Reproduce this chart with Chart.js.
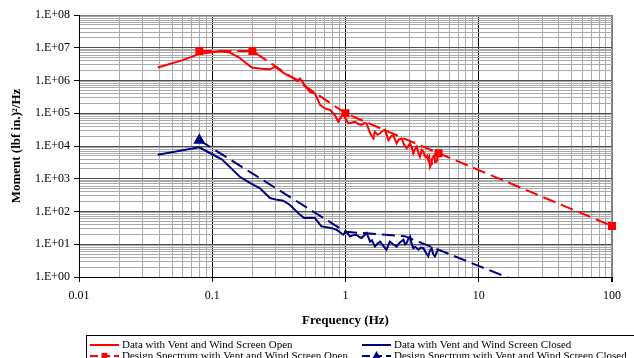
<!DOCTYPE html>
<html>
<head>
<meta charset="utf-8">
<script src="https://cdn.jsdelivr.net/npm/chart.js@4.4.0/dist/chart.umd.min.js"></script>
<style>
  html, body { margin: 0; padding: 0; background: #fff; }
</style>
</head>
<body>
<canvas id="psd-chart" width="634" height="358"></canvas>
<script>
// tick labels
var xTickLabels = ['0.01', '0.1', '1', '10', '100'];
var yTickLabels = ['1.E+00', '1.E+01', '1.E+02', '1.E+03', '1.E+04', '1.E+05', '1.E+06', '1.E+07', '1.E+08'];

// data with vent and wind screen open (red)
var openFreq = [0.039, 0.06, 0.081, 0.1, 0.114, 0.136, 0.157, 0.178, 0.198, 0.235, 0.271, 0.296, 0.32, 0.351, 0.4, 0.443,
  0.455, 0.48, 0.51, 0.54, 0.59, 0.644, 0.7, 0.765, 0.834, 0.883, 0.96, 1.0, 1.05, 1.12, 1.18, 1.25, 1.32, 1.38, 1.44,
  1.53, 1.62, 1.66, 1.74, 1.82, 1.9, 1.98, 2.1, 2.2, 2.28, 2.42, 2.52, 2.64, 2.75, 2.88, 3.05, 3.15, 3.23, 3.3, 3.42,
  3.52, 3.62, 3.73, 3.84, 3.9, 4.0, 4.1, 4.18, 4.25, 4.31, 4.4, 4.45, 4.56, 4.65, 4.7, 4.83, 4.9, 4.97];
var openMoment = [2.5e6, 4.2e6, 6.6e6, 7.3e6, 7.8e6, 7.1e6, 5.2e6, 3.5e6, 2.5e6, 2.3e6, 2.2e6, 2.6e6, 2.1e6, 1.6e6, 1.25e6, 1.0e6,
  1.15e6, 8.5e5, 6.0e5, 4.5e5, 4.0e5, 1.8e5, 1.4e5, 1.26e5, 8.7e4, 5.5e4, 1.0e5, 6.9e4, 4.9e4, 5.2e4, 5.5e4, 4.7e4, 4.4e4, 5.0e4, 4.9e4,
  2.45e4, 1.7e4, 2.7e4, 2.2e4, 2.45e4, 2.9e4, 3.1e4, 1.5e4, 2.0e4, 2.1e4, 1.2e4, 1.6e4, 1.7e4, 1.1e4, 8.5e3, 1.2e4, 8.9e3, 6.0e3, 7.5e3, 9.5e3,
  6.3e3, 4.7e3, 7.6e3, 6.8e3, 5.5e3, 4.5e3, 5.0e3, 3.7e3, 4.5e3, 2.3e3, 2.8e3, 4.0e3, 4.7e3, 5.2e3, 3.2e3, 3.3e3, 4.2e3, 6.0e3];

// data with vent and wind screen closed (navy)
var closedFreq = [0.039, 0.08, 0.1, 0.118, 0.14, 0.161, 0.19, 0.228, 0.271, 0.3, 0.341, 0.383, 0.456, 0.49, 0.55, 0.59, 0.62,
  0.66, 0.72, 0.79, 0.86, 0.92, 0.96, 1.01, 1.05, 1.08, 1.15, 1.21, 1.27, 1.32, 1.38, 1.44, 1.53, 1.58, 1.66, 1.74, 1.82,
  1.92, 2.03, 2.1, 2.15, 2.28, 2.42, 2.55, 2.72, 2.8, 2.88, 2.95, 3.05, 3.12, 3.23, 3.35, 3.52, 3.68, 3.84, 4.0, 4.18,
  4.3, 4.43, 4.55, 4.69, 4.83, 4.97];
var closedMoment = [5.4e3, 9.1e3, 5.6e3, 3.9e3, 2.0e3, 1150, 760, 510, 257, 234, 214, 158, 79, 63, 63, 63, 48,
  35, 33, 31, 27.5, 22.4, 19.5, 24.5, 20, 17.4, 19, 19.5, 16.6, 15.5, 18.6, 21.9, 12, 13.2, 8.5, 10.5, 12,
  8.9, 6.8, 9.5, 12, 10, 8.5, 11.2, 13.8, 10, 11, 14.1, 17.4, 11.2, 7.6, 8.3, 6.8, 7.9, 7.6, 5.6, 4.3,
  6.3, 7.6, 5.0, 4.3, 5.6, 6.8];

// design spectra
var designOpenFreq = [0.08, 0.2, 1, 5, 100];
var designOpenMoment = [8e6, 8e6, 1e5, 6e3, 36];
var designClosedFreq = [0.08, 1, 2.8, 100];
var designClosedMoment = [1.5e4, 24, 17.5, 0.05];

function toPoints(xs, ys) {
  return xs.map(function(x, i) { return {x: x, y: ys[i]}; });
}

function isDecade(v) {
  var l = Math.log10(v);
  return Math.abs(l - Math.round(l)) < 1e-9;
}

function logTicks(fromExp, toExp) {
  var t = [];
  for (var k = fromExp; k < toExp; k++) {
    for (var m = 1; m <= 9; m++) {
      t.push({value: Number((m * Math.pow(10, k)).toPrecision(10))});
    }
  }
  t.push({value: Math.pow(10, toExp)});
  return t;
}

// legend drawn in a box under the axis, two columns
var legendBox = {
  id: 'legendBox',
  afterDraw: function(chart) {
    var ctx = chart.ctx;
    ctx.save();
    ctx.strokeStyle = '#000';
    ctx.lineWidth = 1;
    ctx.strokeRect(86.5, 335.5, 600, 40);
    var cols = [90, 362];
    var rows = [345, 356];
    ctx.font = '11px "Liberation Serif"';
    ctx.textBaseline = 'middle';
    chart.data.datasets.forEach(function(ds, i) {
      var x = cols[i % 2], y = rows[Math.floor(i / 2)];
      ctx.strokeStyle = ds.borderColor;
      ctx.lineWidth = 2;
      ctx.setLineDash(ds.borderDash ? [8, 4] : []);
      ctx.beginPath();
      ctx.moveTo(x, y);
      ctx.lineTo(x + 29, y);
      ctx.stroke();
      ctx.setLineDash([]);
      ctx.fillStyle = ds.borderColor;
      if (ds.pointStyle === 'rect') {
        ctx.fillRect(x + 11.5, y - 3, 6, 6);
      } else if (ds.pointStyle === 'triangle') {
        ctx.beginPath();
        ctx.moveTo(x + 14.5, y - 5);
        ctx.lineTo(x + 19, y + 3);
        ctx.lineTo(x + 10, y + 3);
        ctx.closePath();
        ctx.fill();
      }
      ctx.fillStyle = '#000';
      ctx.fillText(ds.label, x + 32, y);
    });
    ctx.restore();
  }
};

Chart.defaults.font.family = '"Liberation Serif", "Times New Roman", serif';
Chart.defaults.color = '#000';

var psd_chart = new Chart(document.getElementById('psd-chart'), {
  type: 'line',
  data: {
    datasets: [
      {
        label: 'Data with Vent and Wind Screen Open',
        data: toPoints(openFreq, openMoment),
        borderColor: '#ff0000',
        borderWidth: 2,
        pointRadius: 0
      },
      {
        label: 'Data with Vent and Wind Screen Closed',
        data: toPoints(closedFreq, closedMoment),
        borderColor: '#000080',
        borderWidth: 2,
        pointRadius: 0
      },
      {
        label: 'Design Spectrum with Vent and Wind Screen Open',
        data: toPoints(designOpenFreq, designOpenMoment),
        borderColor: '#ff0000',
        backgroundColor: '#ff0000',
        borderWidth: 2,
        borderDash: [13, 6],
        pointStyle: 'rect',
        pointRadius: 4.2,
        clip: 8
      },
      {
        label: 'Design Spectrum with Vent and Wind Screen Closed',
        data: toPoints(designClosedFreq, designClosedMoment),
        borderColor: '#000080',
        backgroundColor: '#000080',
        borderWidth: 2,
        borderDash: [13, 6],
        pointStyle: 'triangle',
        pointRadius: [5, 0, 0, 0]
      }
    ]
  },
  options: {
    responsive: false,
    animation: false,
    layout: {
      padding: {top: 15, right: 22, bottom: 30, left: 0}
    },
    plugins: {
      legend: { display: false },
      tooltip: { enabled: false }
    },
    elements: {
      line: { tension: 0 }
    },
    scales: {
      x: {
        type: 'logarithmic',
        min: 0.01,
        max: 100,
        afterBuildTicks: function(scale) { scale.ticks = logTicks(-2, 2); },
        afterFit: function(scale) { scale.height = 51; },
        border: { color: '#000', width: 1 },
        grid: {
          color: function(c) {
            if (!c.tick) return '#aaaaaa';
            if (c.tick.value >= 100) return '#808080';
            return isDecade(c.tick.value) ? '#000' : '#aaaaaa';
          },
          lineWidth: function(c) {
            return c.tick && c.tick.value >= 100 ? 2 : 1;
          },
          tickColor: function(c) {
            return c.tick && isDecade(c.tick.value) ? '#000' : 'rgba(0,0,0,0)';
          },
          tickLength: 5
        },
        ticks: {
          autoSkip: false,
          maxRotation: 0,
          padding: 7,
          font: { size: 12 },
          callback: function(value) {
            if (!isDecade(value)) return '';
            return xTickLabels[Math.round(Math.log10(value)) + 2];
          }
        },
        title: {
          display: true,
          text: 'Frequency (Hz)',
          font: { size: 13, weight: 'bold' },
          padding: 0
        }
      },
      y: {
        type: 'logarithmic',
        min: 1,
        max: 1e8,
        afterBuildTicks: function(scale) { scale.ticks = logTicks(0, 8); },
        afterFit: function(scale) { scale.width = 79; },
        border: { color: '#000', width: 1 },
        grid: {
          color: function(c) {
            if (!c.tick) return '#aaaaaa';
            if (c.tick.value >= 1e8) return '#808080';
            return isDecade(c.tick.value) ? '#505050' : '#aaaaaa';
          },
          tickColor: function(c) {
            return c.tick && isDecade(c.tick.value) ? '#000' : 'rgba(0,0,0,0)';
          },
          tickLength: 5
        },
        ticks: {
          autoSkip: false,
          padding: 4,
          font: { size: 12 },
          callback: function(value) {
            if (!isDecade(value)) return '';
            return yTickLabels[Math.round(Math.log10(value))];
          }
        },
        title: {
          display: true,
          text: 'Moment (lbf in.)\u00b2/Hz',
          font: { size: 13, weight: 'bold' },
          padding: { top: 9, bottom: 0 }
        }
      }
    }
  },
  plugins: [legendBox]
});
</script>
</body>
</html>
